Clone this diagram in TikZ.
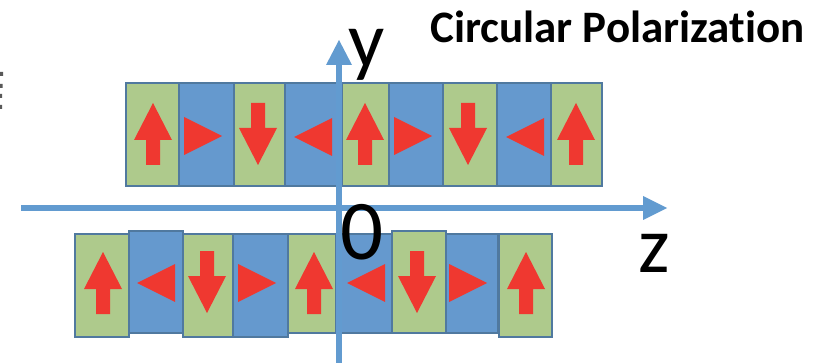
\documentclass[tikz,border=0pt]{standalone}
\usepackage{fontspec}
\setmainfont{Carlito}[Ligatures=NoCommon]
\definecolor{cellgreen}{HTML}{AECA8C}
\definecolor{cellblue}{HTML}{6599CE}
\definecolor{celledge}{HTML}{50799F}
\definecolor{arrowred}{HTML}{EF3830}
\definecolor{axisblue}{HTML}{629BD0}
\tikzset{
  gcell/.style={draw=celledge,fill=cellgreen,line width=1.6pt},
  bcell/.style={draw=celledge,fill=cellblue,line width=1.6pt},
  redshape/.style={fill=arrowred,draw=none},
  axisline/.style={draw=axisblue,line width=6.5pt},
  axishead/.style={fill=axisblue,draw=none},
  biglabel/.style={anchor=base,inner sep=0pt,text=black,font=\fontsize{80}{80}\selectfont},
  zerolabel/.style={anchor=base,inner sep=0pt,text=black,font=\fontsize{85}{85}\selectfont},
  titlelabel/.style={anchor=base west,inner sep=0pt,text=black,font=\fontsize{45}{45}\selectfont\bfseries}
}
\newcommand{\cellbox}[6]{\node[#1,inner sep=0pt,minimum width=#4pt-#2pt,minimum height=#5pt-#3pt,anchor=north west] (#6) at (#2,#3) {};}
\newcommand{\uparr}[2]{\fill[redshape] (#1,#2) -- ++(19,37) -- ++(-12,0) -- ++(0,25) -- ++(-14,0) -- ++(0,-25) -- ++(-12,0) -- cycle;}
\newcommand{\dnarr}[2]{\fill[redshape] (#1,#2+62) -- ++(19,-37) -- ++(-12,0) -- ++(0,-25) -- ++(-14,0) -- ++(0,25) -- ++(-12,0) -- cycle;}
\newcommand{\rtri}[2]{\fill[redshape] (#1,#2-19) -- (#1+38,#2) -- (#1,#2+19) -- cycle;}
\newcommand{\ltri}[2]{\fill[redshape] (#1+38,#2-19) -- (#1,#2) -- (#1+38,#2+19) -- cycle;}
\begin{document}
\begin{tikzpicture}[x=1pt,y=-1pt]
\useasboundingbox (0,0) rectangle (829,363);
\fill[white] (0,0) rectangle (829,363);
% cropped fragment at the left edge
\fill[gray!70!black] (0,72) rectangle (3,76) (0,84) rectangle (2.5,88) (0,94) rectangle (2,98) (0,105) rectangle (2,109);
% y label lies behind the top row
\node[biglabel] (ylab) at (367,68) {y};
% top row
\cellbox{gcell}{125}{82}{178}{185}{ta}
\cellbox{bcell}{178}{82}{233}{185}{tb}
\cellbox{gcell}{233}{82}{284}{185}{tc}
\cellbox{bcell}{284}{82}{341}{185}{td}
\cellbox{gcell}{341}{82}{388}{185}{te}
\cellbox{bcell}{388}{82}{442}{185}{tf}
\cellbox{gcell}{442}{82}{496}{185}{tg}
\cellbox{bcell}{496}{82}{550}{185}{th}
\cellbox{gcell}{550}{82}{601}{185}{ti}
% bottom row
\cellbox{gcell}{287}{233}{343}{332}{be}
\cellbox{bcell}{335}{233}{391}{332}{bf}
\cellbox{gcell}{74}{233}{128}{336}{ba}
\cellbox{bcell}{128}{230}{182}{332}{bb}
\cellbox{bcell}{232}{233}{287}{336}{bd}
\cellbox{gcell}{182}{233}{232}{336}{bc}
\cellbox{bcell}{445}{233}{497}{332}{bh}
\cellbox{gcell}{391}{230}{445}{332}{bg}
\cellbox{gcell}{498}{233}{551}{336}{bi}
% red arrows, top
\uparr{153}{103} \rtri{184}{136} \dnarr{258}{103} \ltri{294}{137}
\uparr{365}{103} \rtri{394}{136} \dnarr{468}{103} \ltri{506}{137} \uparr{576}{103}
% red arrows, bottom
\uparr{103}{252} \ltri{137}{283} \dnarr{207}{251} \rtri{238}{283}
\uparr{314}{252} \ltri{347}{283} \dnarr{417}{251} \rtri{449}{283} \uparr{526}{252}
% axes
\coordinate (zstart) at (21,208);
\coordinate (zend) at (645,208);
\coordinate (ystart) at (339,363);
\coordinate (yend) at (339,63);
\draw[axisline] (zstart) -- (zend);
\draw[axisline] (ystart) -- (yend);
\fill[axishead] (643,196) -- (667,208) -- (643,220) -- cycle;
\fill[axishead] (326,65) -- (339,40) -- (352,65) -- cycle;
% labels
\node[zerolabel] (olab) at (362,259) {0};
\node[biglabel] (zlab) at (654,272) {z};
\node[titlelabel] (title) at (430,43) {Circular Polarization};
\end{tikzpicture}
\end{document}
